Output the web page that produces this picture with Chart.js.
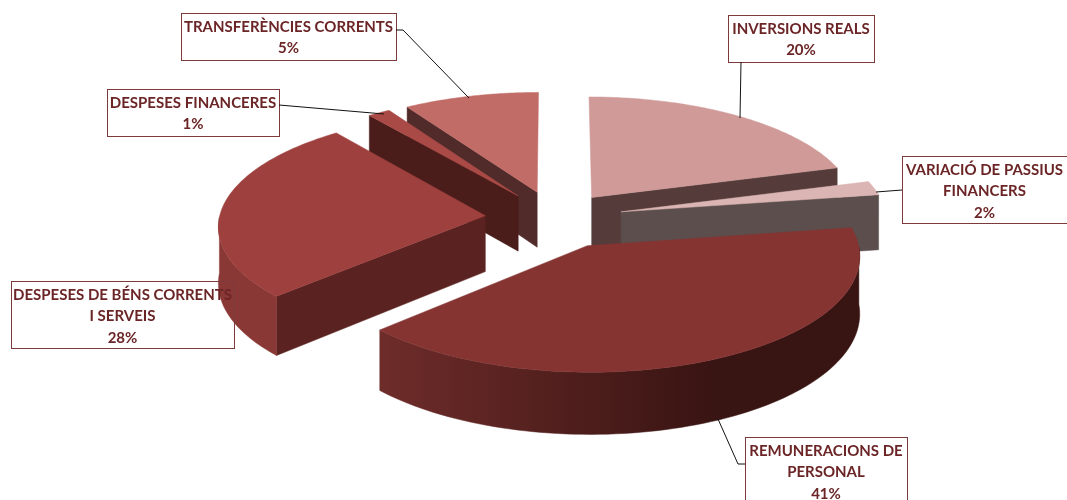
<!DOCTYPE html>
<html>
<head>
<meta charset="utf-8">
<style>
  html, body { margin: 0; padding: 0; background: #fff; }
  canvas { display: block; }
</style>
<script src="https://cdn.jsdelivr.net/npm/chart.js@4"></script>
</head>
<body>
<canvas id="pieChart" width="1067" height="500"></canvas>
<script>
// Categories, clockwise from the top of the pie
const categories = [
  'INVERSIONS REALS',
  'VARIACIÓ DE PASSIUS FINANCERS',
  'REMUNERACIONS DE PERSONAL',
  'DESPESES DE BÉNS CORRENTS I SERVEIS',
  'DESPESES FINANCERES',
  'TRANSFERÈNCIES CORRENTS'
];
// Share of the pie each slice takes in the picture
const sliceValues = [20.5, 2, 40.5, 26.5, 1.5, 9];
// Percentages as printed on the labels (they do not add up to 100 in the original)
const percentLabels = ['20%', '2%', '41%', '28%', '1%', '5%'];

// Slice styles
const topColors = ['#cf9a98', '#dbb5b3', '#853432', '#9e403e', '#aa4a46', '#c26c68'];
const cutColors = ['#553c3a', '#5b4e4d', '#3a1513', '#5a2321', '#4a1c1a', '#502b29'];
const wallLeft = ['#553c3a', '#5b4e4d', '#6e2c2a', '#8a3836', '#4a1c1a', '#502b29'];
const wallRight = ['#553c3a', '#5b4e4d', '#381412', '#8a3836', '#4a1c1a', '#502b29'];
const explode = [62, 68, 72, 70, 65, 65];
const drawOrder = [0, 5, 4, 1, 3, 2];

// Label boxes: lines of text, box, leader line
const labelBoxes = [
  { lines: ['INVERSIONS REALS'], box: [728, 15, 146, 47], leader: [[741, 62], [740, 118]] },
  { lines: ['VARIACIÓ DE PASSIUS', 'FINANCERS'], box: [902, 156, 170, 67], leader: [[902, 190], [876, 192]] },
  { lines: ['REMUNERACIONS DE', 'PERSONAL'], box: [745, 437, 162, 70], leader: [[745, 464], [738, 464], [718, 419]] },
  { lines: ['DESPESES DE BÉNS CORRENTS', 'I SERVEIS'], box: [11, 281, 223, 67], leader: [] },
  { lines: ['DESPESES FINANCERES'], box: [107, 89, 172, 47], leader: [[279, 105], [384, 114]] },
  { lines: ['TRANSFERÈNCIES CORRENTS'], box: [181, 13, 215, 47], leader: [[396, 30], [403, 30], [469, 98]] }
];

const tilt = 0.42;
const perspective = 0.08;
const depth = 56;

// 3D look: the arcs keep the geometry chart.js gives them, this only projects them
const pie3d = {
  id: 'pie3d',
  beforeDatasetDraw(chart, args) {
    const ctx = chart.ctx;
    drawOrder.forEach(i => drawSlice(ctx, args.meta.data[i], i));
    return false;
  },
  afterDraw(chart) {
    labelBoxes.forEach((l, i) => drawLabel(chart.ctx, l, percentLabels[i]));
  }
};

function drawSlice(ctx, arc, i) {
  const { x, y, startAngle, endAngle, outerRadius } = arc.getProps(['x', 'y', 'startAngle', 'endAngle', 'outerRadius']);
  const mid = (startAngle + endAngle) / 2;
  const off = arc.options.offset;
  const ox = Math.cos(mid) * off;
  const oy = Math.sin(mid) * off;

  const project = (ux, uy, h) => {
    const s = 1 / (1 - perspective * uy / outerRadius);
    return [x + ux * s, y + (tilt * uy + h) * s];
  };
  const rim = (a, h) => project(ox + Math.cos(a) * outerRadius, oy + Math.sin(a) * outerRadius, h);
  const apex = h => project(ox, oy, h);
  const fill = (pts, style) => {
    ctx.beginPath();
    pts.forEach((p, n) => n ? ctx.lineTo(p[0], p[1]) : ctx.moveTo(p[0], p[1]));
    ctx.closePath();
    ctx.fillStyle = style;
    ctx.fill();
    ctx.strokeStyle = style;
    ctx.lineWidth = 0.5;
    ctx.stroke();
  };

  // cut faces, only the ones turned to the viewer
  if (Math.sin(startAngle - Math.PI / 2) > 0.01) {
    fill([apex(0), rim(startAngle, 0), rim(startAngle, depth), apex(depth)], cutColors[i]);
  }
  if (Math.sin(endAngle + Math.PI / 2) > 0.01) {
    fill([apex(0), rim(endAngle, 0), rim(endAngle, depth), apex(depth)], cutColors[i]);
  }

  // outer wall
  const steps = 90;
  const front = [];
  for (let n = 0; n <= steps; n++) {
    const a = startAngle + (endAngle - startAngle) * n / steps;
    if (Math.sin(a) >= 0) front.push(a);
  }
  if (front.length > 1) {
    const pts = front.map(a => rim(a, 0)).concat(front.slice().reverse().map(a => rim(a, depth)));
    const xs = pts.map(p => p[0]);
    const grad = ctx.createLinearGradient(Math.min(...xs), 0, Math.max(...xs), 0);
    grad.addColorStop(0, wallLeft[i]);
    grad.addColorStop(0.7, wallRight[i]);
    grad.addColorStop(1, wallRight[i]);
    fill(pts, grad);
  }

  // top face
  const topPts = [apex(0)];
  for (let n = 0; n <= steps; n++) {
    topPts.push(rim(startAngle + (endAngle - startAngle) * n / steps, 0));
  }
  fill(topPts, arc.options.backgroundColor);
}

function drawLabel(ctx, label, percent) {
  const [bx, by, bw, bh] = label.box;
  ctx.strokeStyle = '#7d3a3a';
  ctx.lineWidth = 1;
  ctx.strokeRect(bx + 0.5, by + 0.5, bw, bh);

  if (label.leader.length) {
    ctx.beginPath();
    label.leader.forEach((p, n) => n ? ctx.lineTo(p[0], p[1]) : ctx.moveTo(p[0], p[1]));
    ctx.strokeStyle = '#111';
    ctx.stroke();
  }

  const lines = label.lines.concat(percent);
  const cx = bx + (label === labelBoxes[1] ? 165 : bw) / 2;
  ctx.fillStyle = '#6b2526';
  ctx.font = 'bold 15px Lato, "Noto Sans", sans-serif';
  ctx.textAlign = 'center';
  ctx.textBaseline = 'middle';
  lines.forEach((t, n) => ctx.fillText(t, cx, by + 14 + n * 21.5));
}

const pieChart = new Chart(document.getElementById('pieChart').getContext('2d'), {
  type: 'pie',
  data: {
    labels: categories,
    datasets: [{
      data: sliceValues,
      backgroundColor: topColors,
      offset: explode,
      borderWidth: 0
    }]
  },
  options: {
    responsive: false,
    animation: false,
    radius: 266,
    layout: { padding: { left: 43, bottom: 64 } },
    plugins: { legend: { display: false }, tooltip: { enabled: false } }
  },
  plugins: [pie3d]
});
</script>
</body>
</html>
